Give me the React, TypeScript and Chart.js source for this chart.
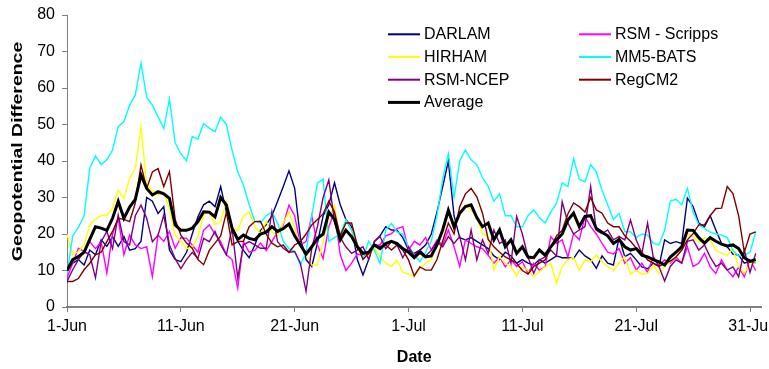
import { useEffect, useRef } from 'react';
import { Chart, registerables } from 'chart.js';

Chart.register(...registerables);

// Samples are 12-hourly, starting 1-Jun (day 0)
const SAMPLE_STEP_DAYS = 0.5;
const tickLabels = ['1-Jun', '11-Jun', '21-Jun', '1-Jul', '11-Jul', '21-Jul', '31-Jul'];
const xTitle = 'Date';
const yTitle = 'Geopotential Difference';
const seriesNames = ['DARLAM', 'RSM - Scripps', 'HIRHAM', 'MM5-BATS', 'RSM-NCEP', 'RegCM2', 'Average'];

const darlam = [
  10, 12, 13, 11.5, 15.6, 14.3, 18.4, 16.6, 19.3, 16.6, 19.3, 15.6, 16, 18, 30, 29, 25.6, 27.5, 15.6, 13,
  12.4, 15, 20, 24.7, 28, 29, 27.5, 33, 26, 22, 18, 15.5, 13.5, 17, 21, 22.5, 25, 29, 33, 37.3,
  32.5, 19, 13, 11.1, 17.5, 25, 28, 34, 28, 24, 22, 13, 8.8, 13, 18, 19.5, 22, 21.1, 21, 19,
  15.6, 14.7, 15.6, 17, 20, 26, 32.9, 40, 25, 19, 18.4, 19, 18, 17, 16, 14, 13, 15, 14, 12,
  13, 12, 11.5, 13, 12, 13, 14, 13.5, 13.5, 13.3, 15.6, 14, 13, 10.6, 14, 12, 11.5, 19, 13.8, 14.7,
  12.9, 11, 10.5, 12, 11.1, 18.4, 17.4, 17.9, 17.4, 29.8, 27.5, 23, 22, 25, 21.1, 17.4, 16.5, 14.5, 14.2, 12,
  12.5, 12,
];

const rsmScripps = [
  8, 12, 16.1, 15.2, 17.9, 16, 17.9, 9.3, 20, 24.3, 14.3, 19.7, 17, 16, 16.5, 8.3, 19.7, 18, 20.7, 16.1,
  19, 18.8, 17, 15, 21, 22.5, 20, 17.9, 14.3, 13, 5.2, 17.9, 15, 15.5, 17.5, 15.5, 17.9, 20.7, 22.5, 27.9,
  25, 17, 17.9, 25, 17, 13.3, 22, 26.1, 14.3, 10, 12, 14.5, 14.2, 14.5, 17, 17, 19.5, 20.1, 21.5, 22,
  15.6, 18, 17, 19, 15.6, 18.4, 17, 21.1, 16.5, 11.1, 18.4, 17.4, 16.5, 16, 14.2, 12, 13.7, 11, 12.9, 11.1,
  12.4, 9.2, 12, 10.1, 11, 19.3, 17.4, 18.4, 13.7, 20.1, 18.4, 24.8, 22, 20, 17.4, 15, 14.5, 16, 12, 13.5,
  10.1, 12, 9.5, 13.7, 11.5, 12.9, 12, 13.7, 12, 16.5, 11.1, 12, 14.7, 11, 9.2, 12.9, 10.1, 8.3, 11, 8.3,
  12.9, 10,
];

const hirham = [
  20, 14.3, 15.2, 17, 22.5, 24, 25, 25.2, 27, 32, 29.8, 35.2, 38, 49.4, 33.4, 32, 30.7, 31.6, 27, 19.7,
  18, 16, 16.4, 19.2, 25.2, 26, 22.5, 23.4, 29, 21.6, 21, 25, 26, 22, 20, 23.4, 20.7, 19.5, 23, 26,
  21.6, 17, 15, 11.5, 11.5, 17.9, 24.3, 27.9, 18, 23.8, 21.1, 15.6, 14.7, 14, 16, 13.7, 12, 11.1, 12.9, 9.5,
  9, 8.3, 10.6, 12, 13, 17, 22, 25.5, 22, 25.7, 28, 26.6, 24.8, 20, 19.3, 10.1, 13.8, 12, 11, 8.5,
  11, 10, 8.3, 9.7, 11, 12, 6.5, 11, 13, 13.5, 10.1, 12.9, 12.4, 14.2, 12.4, 11.1, 10, 12, 13.8, 9,
  10.1, 9, 9.2, 11.5, 9.2, 11.1, 12.4, 13.8, 15.6, 20.1, 19.3, 17.8, 19, 18.4, 15.6, 14.7, 14.2, 16, 11, 9.2,
  12, 12,
];

const mm5Bats = [
  9, 19.5, 21.8, 25, 38, 41.4, 39, 40.3, 43, 49.4, 50.8, 55.3, 58.1, 66.8, 57.5, 55.3, 52.1, 48.9, 57, 45,
  42, 40, 46.7, 46, 50.3, 49, 48, 52, 50, 43, 37, 33.4, 28, 23.5, 23, 25, 26, 23, 18, 16,
  15.2, 11.5, 15, 25, 34, 35, 18, 19, 20, 23.8, 21, 17, 13.5, 18, 15.6, 12, 21, 22.9, 20.5, 20,
  16.5, 14.5, 12.4, 15, 18, 25, 35, 42, 30, 40, 43, 40.3, 39, 35.4, 33, 29, 31, 25, 25, 22,
  22, 25, 26.6, 24.5, 23, 26, 28.4, 34, 33, 40.7, 35, 34.3, 39, 37, 32, 28, 24, 25.6, 20.6, 20.6,
  19, 20, 19.7, 17.5, 17, 21, 29, 29.5, 28, 32.5, 26, 22.5, 21.5, 20.5, 20, 19.7, 19, 15.5, 14, 14.2,
  15, 20.6,
];

const rsmNcep = [
  7, 10.2, 13, 15.2, 14.3, 8, 17.9, 20.7, 16, 25.2, 17.9, 17, 25, 27.9, 24.3, 17.9, 19.7, 25.2, 17, 13.3,
  10.5, 13, 15, 13.3, 18.8, 17.9, 20.7, 17, 14.3, 21.6, 7.9, 17, 17.9, 17, 16.1, 16.1, 26.1, 17.9, 16.1, 15,
  15.2, 12, 4.3, 16.1, 22, 30, 34.8, 23.4, 19, 16.5, 14.7, 15.6, 16.5, 13, 17.9, 19.3, 16, 17.9, 17, 13.5,
  16.5, 14, 15.6, 14, 15.5, 17.9, 16.5, 19.3, 17.4, 19.3, 12.9, 21.1, 12.9, 18.4, 14.7, 21.1, 17.4, 18.4, 12, 24.8,
  20, 13.7, 9.2, 12.9, 13.7, 15.6, 14, 28.8, 23, 20, 21.1, 22, 33, 21, 20.1, 21.1, 18.4, 19.3, 18.4, 23.8,
  18.4, 14.7, 23, 13.7, 11.1, 7.1, 11.1, 12.9, 12, 18, 18.4, 15.6, 17, 13.7, 11.1, 12, 10.1, 11, 8.3, 15.6,
  9.5, 14.7,
];

const regCM2 = [
  7, 7, 7.8, 10.2, 12, 14.3, 15, 17.9, 20.7, 24.3, 24, 23.4, 28.5, 38.9, 32.5, 37, 37.9, 33, 37.1, 24,
  19.7, 17.5, 16.1, 13, 11.6, 15.5, 17.5, 19.5, 26, 17, 17.9, 18, 22, 23.4, 23.5, 20, 17.5, 16.5, 17, 15,
  17, 17.9, 20, 22.5, 24, 25.5, 29, 26, 19.5, 23, 23, 17, 13, 14.7, 17, 16.5, 17, 15.6, 17, 15.6,
  12.9, 8.5, 11, 10.1, 10.1, 13, 18, 23, 20, 27.5, 31, 32.5, 30.2, 25.7, 18.5, 16.5, 15, 13.7, 12.9, 12,
  10, 9, 11.1, 12, 12.9, 16.5, 19.5, 21, 25.5, 28.5, 27.5, 26, 30, 26.6, 25.7, 23, 22, 22, 19.5, 18,
  16.2, 15, 12.9, 12, 11.1, 12, 12.6, 13.7, 15.6, 18.4, 20.1, 22.5, 22.5, 25, 27, 27.1, 33, 31.1, 25, 15,
  20, 20.6,
];

const average = [
  10, 13, 13.8, 15, 18.5, 22, 21.6, 21, 24.3, 28.9, 24.3, 27.4, 29.5, 36.2, 32.5, 30.7, 31.6, 31, 29.8, 22.5,
  21, 21, 21.6, 23.4, 26.1, 26, 24.7, 30, 28, 21.6, 18.5, 19.7, 18.8, 18.4, 20, 20.5, 22, 20.7, 21.5, 22.7,
  19.5, 17, 14.5, 16.5, 18.8, 20, 26, 24, 18.4, 21, 19.3, 16.5, 14.7, 15, 17, 16, 17.4, 18, 17.4, 16,
  15, 13.5, 15, 13.7, 14, 17, 21.1, 26.5, 22, 25.7, 27.5, 28, 24.5, 22, 23, 18.4, 21.1, 16.5, 18.4, 14.7,
  16.5, 13.7, 13.5, 15.6, 14.2, 16.5, 18.4, 20, 23.8, 25.7, 22, 24.8, 25, 21.5, 20.5, 19.5, 17.4, 18.5, 16.5, 15.6,
  16, 14.2, 13.7, 13, 12.4, 11.5, 13.7, 15, 16.5, 21.1, 21, 19, 17.5, 19, 18, 17.2, 16.7, 17, 16, 13.5,
  12.5, 13,
];

const seriesValues = [darlam, rsmScripps, hirham, mm5Bats, rsmNcep, regCM2, average];
const seriesColors = ['#000080', '#FF00FF', '#FFFF00', '#00FFFF', '#800080', '#800000', '#000000'];
const seriesWidths = [1.4, 1.4, 1.4, 1.4, 1.4, 1.4, 3];
// drawing stack: later series on top (lower order = drawn later)
const seriesOrder = [6, 5, 4, 3, 2, 1, 0];

const FONT = '"Liberation Sans", Arial, sans-serif';

const yTitlePlugin = {
  id: 'yTitleStretched',
  afterDraw(chart: any) {
    const ctx = chart.ctx;
    ctx.save();
    ctx.translate(18, 151.5);
    ctx.rotate(-Math.PI / 2);
    ctx.scale(1.39, 1);
    ctx.font = `bold 14px ${FONT}`;
    ctx.fillStyle = '#000';
    ctx.textAlign = 'center';
    ctx.textBaseline = 'middle';
    ctx.fillText(yTitle, 0, 0);
    ctx.restore();
  },
};

const legendPlugin = {
  id: 'twoColumnLegend',
  afterDraw(chart: any) {
    const ctx = chart.ctx;
    const cols = [388, 579];
    const rows = [34.3, 57, 79.7, 102.4];
    chart.data.datasets.forEach((ds: any, i: number) => {
      const x = cols[i % 2];
      const y = rows[Math.floor(i / 2)];
      ctx.save();
      ctx.strokeStyle = ds.borderColor;
      ctx.lineWidth = ds.borderWidth > 2 ? 3 : 2;
      ctx.beginPath();
      ctx.moveTo(x, y);
      ctx.lineTo(x + 32, y);
      ctx.stroke();
      ctx.fillStyle = '#000';
      ctx.font = `16px ${FONT}`;
      ctx.textAlign = 'left';
      ctx.textBaseline = 'middle';
      ctx.fillText(ds.label, x + 36, y + 0.5);
      ctx.restore();
    });
  },
};

export default function App() {
  const ref = useRef<HTMLCanvasElement>(null);

  useEffect(() => {
    const canvas = ref.current;
    if (!canvas) return;
    Chart.defaults.font.family = FONT;
    Chart.defaults.font.size = 16;
    Chart.defaults.color = '#000';

    const datasets = seriesNames.map((name, k) => ({
      label: name,
      data: seriesValues[k].map((v, i) => ({ x: i * SAMPLE_STEP_DAYS, y: v })),
      borderColor: seriesColors[k],
      backgroundColor: seriesColors[k],
      borderWidth: seriesWidths[k],
      pointRadius: 0,
      pointHoverRadius: 0,
      tension: 0,
      fill: false,
      order: seriesOrder[k],
    }));

    const chart = new Chart(canvas, {
      type: 'line',
      data: { datasets },
      options: {
        responsive: false,
        animation: false,
        devicePixelRatio: 1,
        layout: { padding: { left: 0, top: 15, right: 7.6, bottom: 0 } },
        plugins: {
          legend: { display: false },
          tooltip: { enabled: false },
        },
        scales: {
          x: {
            type: 'linear',
            min: 0,
            max: 61,
            ticks: {
              stepSize: 10,
              includeBounds: false,
              autoSkip: false,
              maxRotation: 0,
              minRotation: 0,
              padding: 5,
              color: '#000',
              font: { size: 16, family: FONT },
              callback: (v: any) => tickLabels[Math.round(Number(v) / 10)] ?? '',
            },
            grid: { drawOnChartArea: false, drawTicks: true, tickLength: 5, color: '#808080' },
            border: { display: true, color: '#808080', width: 2 },
            title: {
              display: true,
              text: xTitle,
              color: '#000',
              font: { size: 16, weight: 'bold', family: FONT },
              padding: { top: 0, bottom: 2 },
            },
            afterFit: (s: any) => {
              s.height = 62;
              s.paddingLeft = 0;
              s.paddingRight = 0;
            },
          },
          y: {
            type: 'linear',
            min: 0,
            max: 80,
            ticks: {
              stepSize: 10,
              padding: 7,
              color: '#000',
              font: { size: 16, family: FONT },
            },
            grid: { drawOnChartArea: false, drawTicks: true, tickLength: 5, color: '#808080' },
            border: { display: true, color: '#808080', width: 1 },
            afterFit: (s: any) => {
              s.width = 67;
              s.paddingTop = 0;
              s.paddingBottom = 0;
            },
          },
        },
      } as any,
      plugins: [yTitlePlugin, legendPlugin],
    });

    return () => chart.destroy();
  }, []);

  return (
    <div style={{ position: 'absolute', left: 0, top: 0, width: 769, height: 369, background: '#fff' }}>
      <canvas ref={ref} width={769} height={369} style={{ display: 'block', width: 769, height: 369 }} />
    </div>
  );
}
